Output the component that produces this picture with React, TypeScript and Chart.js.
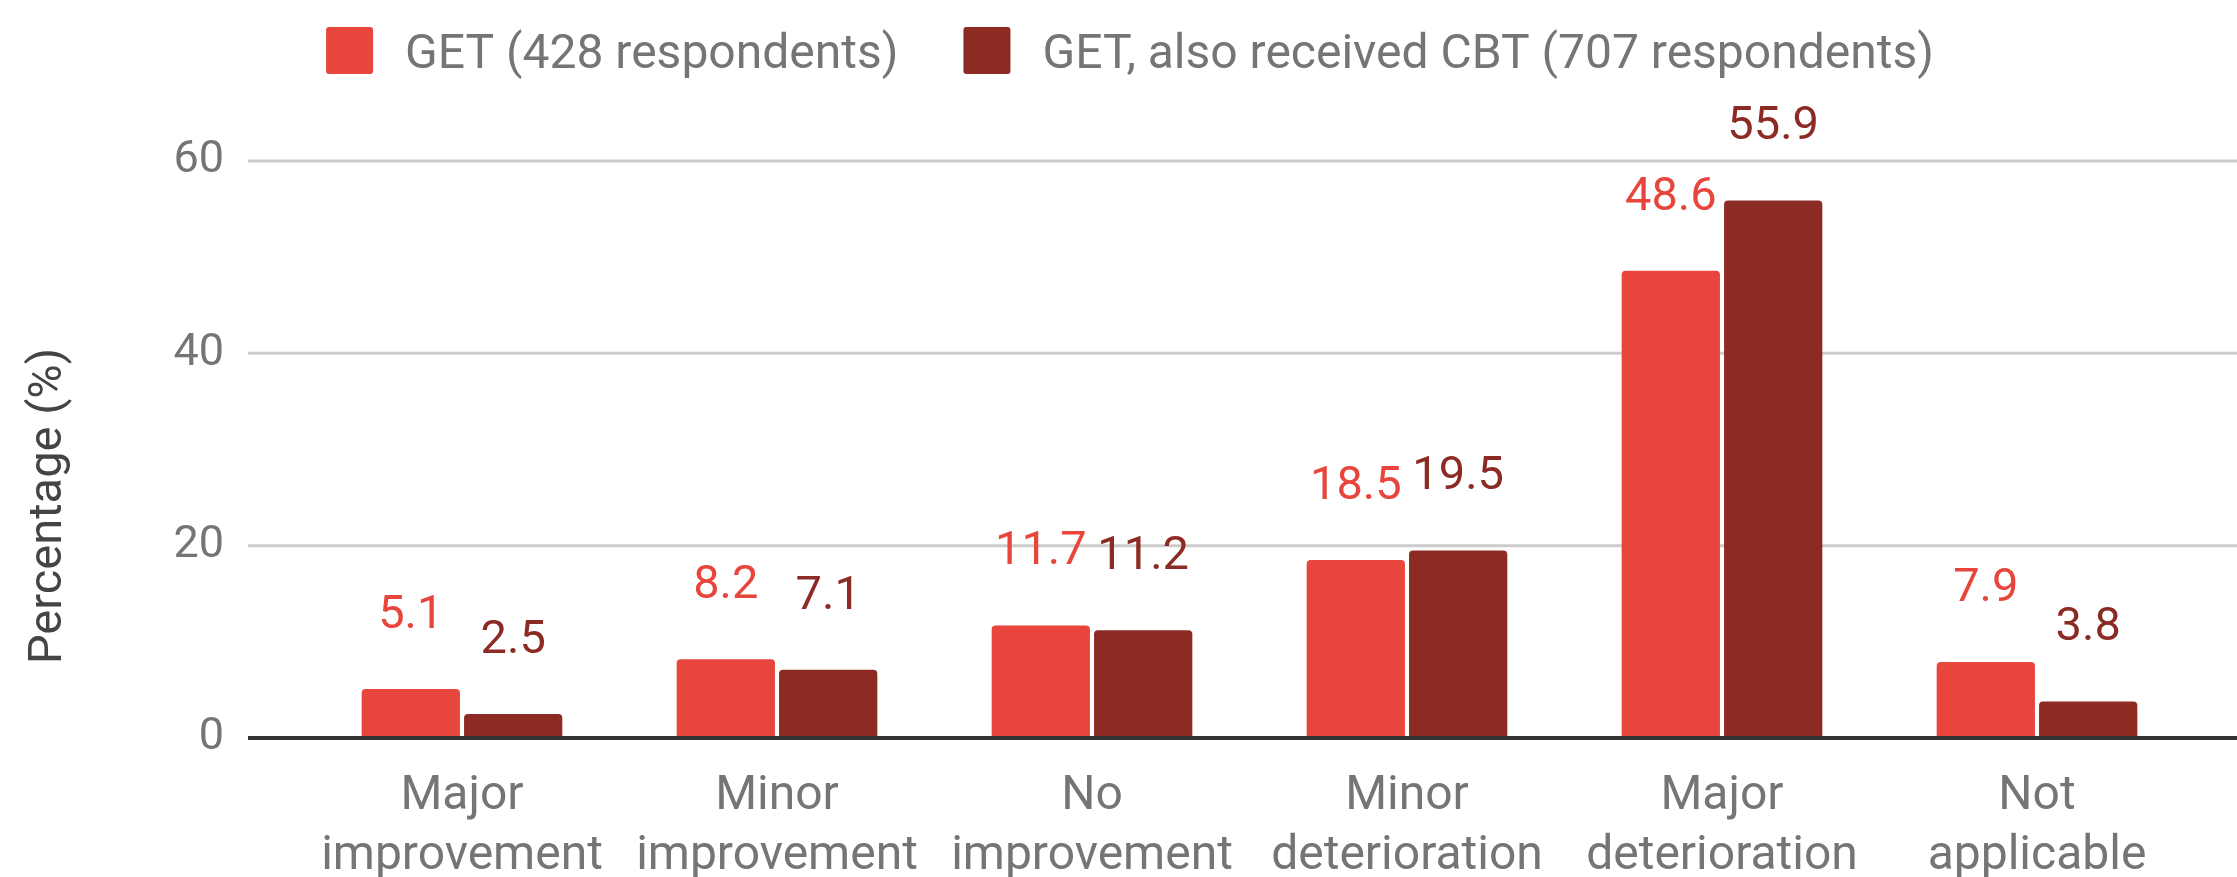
import React, { useEffect, useRef } from 'react';
import { Chart, registerables } from 'chart.js';

Chart.register(...registerables);

const categories: string[][] = [
  ['Major', 'improvement'],
  ['Minor', 'improvement'],
  ['No', 'improvement'],
  ['Minor', 'deterioration'],
  ['Major', 'deterioration'],
  ['Not', 'applicable'],
];
const getValues = [5.1, 8.2, 11.7, 18.5, 48.6, 7.9];
const getCbtValues = [2.5, 7.1, 11.2, 19.5, 55.9, 3.8];
const seriesLabels = ['GET (428 respondents)', 'GET, also received CBT (707 respondents)'];
const seriesColors = ['#e8453c', '#8c2a24'];
const yTicks = [0, 20, 40, 60];
const yTitle = 'Percentage (%)';

const W = 2237;
const H = 877;
const FONT = 'Roboto, "Noto Sans", Arial, sans-serif';

const gridPlugin = {
  id: 'customGrid',
  beforeDatasetsDraw(chart: any) {
    const { ctx } = chart;
    const y = chart.scales.y;
    ctx.save();
    ctx.strokeStyle = '#cccccc';
    ctx.lineWidth = 3;
    y.ticks.forEach((t: any) => {
      if (t.value === 0) return;
      const py = y.getPixelForValue(t.value);
      ctx.beginPath();
      ctx.moveTo(248, py);
      ctx.lineTo(chart.width, py);
      ctx.stroke();
    });
    ctx.restore();
  },
  afterDatasetsDraw(chart: any) {
    const { ctx } = chart;
    const y = chart.scales.y;
    const py = y.getPixelForValue(0);
    ctx.save();
    ctx.strokeStyle = '#333333';
    ctx.lineWidth = 4;
    ctx.beginPath();
    ctx.moveTo(248, py);
    ctx.lineTo(chart.width, py);
    ctx.stroke();

    // data labels
    ctx.font = `47px ${FONT}`;
    ctx.textAlign = 'center';
    ctx.textBaseline = 'alphabetic';
    chart.data.datasets.forEach((ds: any, i: number) => {
      const meta = chart.getDatasetMeta(i);
      ctx.fillStyle = ds.backgroundColor;
      meta.data.forEach((bar: any, j: number) => {
        ctx.fillText(Number(ds.data[j]).toFixed(1), bar.x, bar.y - 61);
      });
    });
    ctx.restore();
  },
  afterDraw(chart: any) {
    const { ctx } = chart;
    ctx.save();
    // y title
    ctx.font = `47px ${FONT}`;
    ctx.fillStyle = '#444444';
    ctx.textAlign = 'center';
    ctx.textBaseline = 'alphabetic';
    ctx.translate(61, 506);
    ctx.rotate(-Math.PI / 2);
    ctx.fillText(yTitle, 0, 0);
    ctx.restore();

    // legend
    ctx.save();
    ctx.font = `48px ${FONT}`;
    const box = 47;
    const gapText = 32;
    const gapItem = 65;
    const ds = chart.data.datasets;
    const widths = ds.map((d: any) => ctx.measureText(d.label).width);
    let total = 0;
    widths.forEach((w: number, i: number) => {
      total += box + gapText + w + (i < widths.length - 1 ? gapItem : 0);
    });
    let x = 1130 - total / 2;
    const cy = 50.5;
    ds.forEach((d: any, i: number) => {
      ctx.fillStyle = d.backgroundColor;
      ctx.beginPath();
      (ctx as any).roundRect(x, cy - box / 2, box, box, 3);
      ctx.fill();
      ctx.fillStyle = '#757575';
      ctx.textAlign = 'left';
      ctx.textBaseline = 'alphabetic';
      ctx.fillText(d.label, x + box + gapText, cy + 17);
      x += box + gapText + widths[i] + gapItem;
    });
    ctx.restore();
  },
};

export default function App() {
  const ref = useRef<HTMLCanvasElement | null>(null);

  useEffect(() => {
    if (!ref.current) return;
    const chart = new Chart(ref.current, {
      type: 'bar',
      data: {
        labels: categories,
        datasets: [
          {
            label: seriesLabels[0],
            data: getValues,
            backgroundColor: seriesColors[0],
            borderRadius: 4,
            categoryPercentage: 0.65,
            barPercentage: 0.96,
          },
          {
            label: seriesLabels[1],
            data: getCbtValues,
            backgroundColor: seriesColors[1],
            borderRadius: 4,
            categoryPercentage: 0.65,
            barPercentage: 0.96,
          },
        ],
      },
      options: {
        responsive: false,
        animation: false,
        devicePixelRatio: 1,
        layout: { padding: { top: 161, right: 42.5, left: 0, bottom: 0 } },
        plugins: {
          legend: { display: false },
          tooltip: { enabled: false },
        },
        scales: {
          x: {
            grid: { display: false, drawTicks: false },
            border: { display: false },
            ticks: {
              autoSkip: false,
              maxRotation: 0,
              minRotation: 0,
              padding: 29,
              color: '#757575',
              font: { family: FONT, size: 48, lineHeight: 1.25 },
            },
            afterFit: (s: any) => {
              s.height = 139;
            },
          },
          y: {
            min: 0,
            max: 60,
            grid: { display: false, drawTicks: false },
            border: { display: false },
            ticks: {
              padding: 80.5,
              color: '#757575',
              font: { family: FONT, size: 45 },
            },
            afterBuildTicks: (s: any) => {
              s.ticks = yTicks.map((v) => ({ value: v }));
            },
            afterFit: (s: any) => {
              s.width = 304.5;
            },
          },
        },
      },
      plugins: [gridPlugin],
    });
    return () => chart.destroy();
  }, []);

  return (
    <div style={{ position: 'fixed', left: 0, top: 0, width: W, height: H, background: '#ffffff' }}>
      <canvas ref={ref} width={W} height={H} style={{ width: W, height: H, display: 'block' }} />
    </div>
  );
}
